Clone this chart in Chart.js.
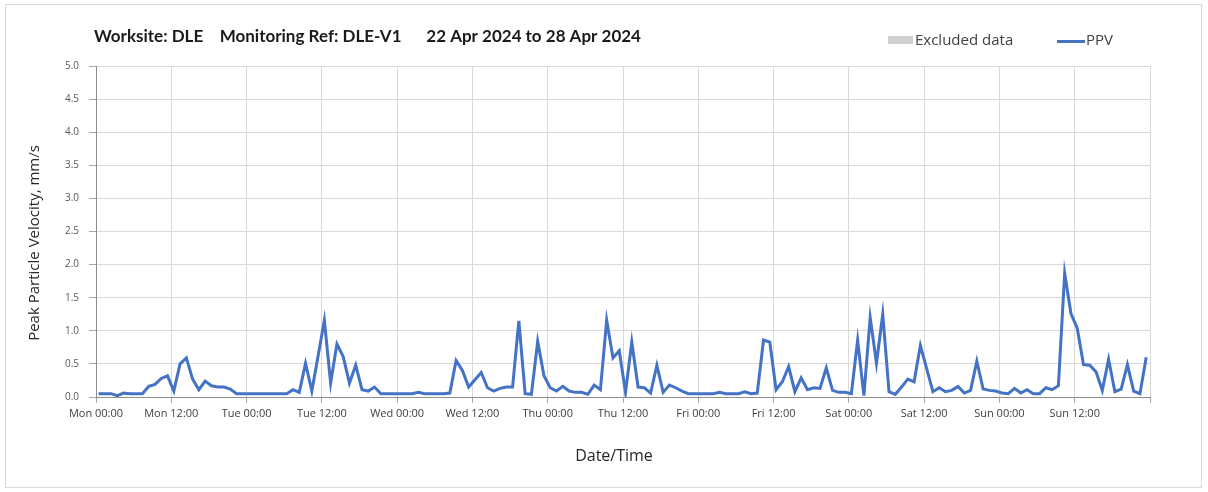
<!DOCTYPE html>
<html>
<head>
<meta charset="utf-8">
<script src="https://cdn.jsdelivr.net/npm/chart.js@4.4.1/dist/chart.umd.min.js"></script>
<style>
  html, body { margin: 0; padding: 0; background: #ffffff; }
  #wrap { position: relative; width: 1208px; height: 492px; }
  #frame { position: absolute; left: 5px; top: 4px; width: 1197px; height: 484px; border: 1px solid #d9d9d9; box-sizing: border-box; pointer-events: none; }
  canvas { position: absolute; left: 0; top: 0; }
</style>
</head>
<body>
<div id="wrap">
  <canvas id="c" width="1208" height="492"></canvas>
  <div id="frame"></div>
</div>
<script>
// ---- Data ----
const chartTitle = 'Worksite: DLE    Monitoring Ref: DLE-V1      22 Apr 2024 to 28 Apr 2024';
const seriesName = 'PPV';
const excludedName = 'Excluded data';
const xTitle = 'Date/Time';
const yTitle = 'Peak Particle Velocity, mm/s';

// tick labels every 12 hours from Mon 00:00
const xTickLabels = ['Mon 00:00','Mon 12:00','Tue 00:00','Tue 12:00','Wed 00:00','Wed 12:00',
  'Thu 00:00','Thu 12:00','Fri 00:00','Fri 12:00','Sat 00:00','Sat 12:00','Sun 00:00','Sun 12:00'];

// hourly PPV readings (mm/s), Mon 00:xx .. Sun 23:xx
const ppvMon = [0.05,0.05,0.05,0.02,0.06,0.05,0.05,0.05,0.16,0.19,0.28,0.32,
                0.09,0.50,0.59,0.27,0.11,0.24,0.17,0.15,0.15,0.12,0.05,0.05];
const ppvTue = [0.05,0.05,0.05,0.05,0.05,0.05,0.05,0.11,0.07,0.51,0.09,0.62,
                1.16,0.21,0.80,0.61,0.21,0.48,0.11,0.09,0.15,0.05,0.05,0.05];
const ppvWed = [0.05,0.05,0.05,0.07,0.05,0.05,0.05,0.05,0.06,0.55,0.40,0.15,
                0.26,0.37,0.14,0.09,0.13,0.15,0.15,1.15,0.05,0.04,0.84,0.32];
const ppvThu = [0.14,0.09,0.16,0.09,0.07,0.07,0.04,0.18,0.11,1.16,0.59,0.70,
                0.07,0.83,0.15,0.14,0.06,0.48,0.07,0.18,0.14,0.09,0.05,0.05];
const ppvFri = [0.05,0.05,0.05,0.07,0.05,0.05,0.05,0.08,0.05,0.06,0.86,0.83,
                0.11,0.23,0.46,0.08,0.29,0.11,0.14,0.13,0.44,0.10,0.07,0.07];
const ppvSat = [0.05,0.86,0.02,1.20,0.51,1.25,0.08,0.04,0.15,0.27,0.23,0.78,
                0.43,0.08,0.14,0.08,0.10,0.16,0.06,0.10,0.54,0.12,0.10,0.09];
const ppvSun = [0.06,0.05,0.13,0.06,0.11,0.05,0.05,0.14,0.11,0.17,1.87,1.26,
                1.04,0.49,0.48,0.38,0.10,0.57,0.08,0.12,0.49,0.09,0.05,0.60];

const readingOffsetHours = 0.4; // readings logged a little after each hour

const ppvAll = [].concat(ppvMon, ppvTue, ppvWed, ppvThu, ppvFri, ppvSat, ppvSun);
const ppvPoints = ppvAll.map((v, i) => ({ x: i + readingOffsetHours, y: v }));

const FONT = '"Open Sans", Lato, sans-serif';
const TITLE_FONT = 'Lato, "Open Sans", sans-serif';

const headerPlugin = {
  id: 'header',
  afterDraw(chart) {
    const ctx = chart.ctx;
    ctx.save();
    ctx.textBaseline = 'middle';
    ctx.textAlign = 'left';
    ctx.fillStyle = '#1a1a1a';
    ctx.font = 'bold 17px ' + TITLE_FONT;
    ctx.fillText(chartTitle, 94, 37);
    // legend
    ctx.fillStyle = '#d0d0d0';
    ctx.fillRect(888, 36, 25, 8);
    ctx.fillStyle = '#404040';
    ctx.font = '15px ' + FONT;
    ctx.fillText(excludedName, 915, 41);
    ctx.strokeStyle = '#4472C4';
    ctx.lineWidth = 3;
    ctx.beginPath();
    ctx.moveTo(1057, 41.5);
    ctx.lineTo(1085, 41.5);
    ctx.stroke();
    ctx.fillText(seriesName, 1086, 41);
    // axis titles
    ctx.fillStyle = '#262626';
    ctx.textAlign = 'center';
    ctx.font = '16px ' + FONT;
    ctx.fillText(xTitle, 614, 456);
    ctx.translate(35, 243);
    ctx.rotate(-Math.PI / 2);
    ctx.font = '15px ' + FONT;
    ctx.fillText(yTitle, 0, 0);
    ctx.restore();
  }
};

new Chart(document.getElementById('c'), {
  type: 'line',
  data: {
    datasets: [{
      label: seriesName,
      data: ppvPoints,
      borderColor: '#4472C4',
      backgroundColor: '#4472C4',
      borderWidth: 3,
      pointRadius: 0,
      tension: 0,
      fill: false
    }]
  },
  options: {
    responsive: false,
    animation: false,
    devicePixelRatio: 1,
    layout: { padding: { left: 0, right: 58, top: 66, bottom: 0 } },
    plugins: { legend: { display: false }, title: { display: false }, tooltip: { enabled: false } },
    scales: {
      x: {
        type: 'linear',
        min: 0,
        max: 168,
        afterFit(s) { s.height = 95; },
        ticks: {
          stepSize: 12,
          autoSkip: false,
          maxRotation: 0,
          padding: 4,
          color: '#404040',
          font: { family: FONT, size: 11 },
          callback(v) { const k = v / 12; return (Number.isInteger(k) && k < xTickLabels.length) ? xTickLabels[k] : ''; }
        },
        grid: { color: '#d9d9d9', lineWidth: 1, tickLength: 6, tickColor: '#a6a6a6' },
        border: { color: '#8c8c8c', width: 1 },
        title: { display: false }
      },
      y: {
        min: 0,
        max: 5,
        afterFit(s) { s.width = 96; },
        ticks: {
          stepSize: 0.5,
          padding: 10,
          color: '#595959',
          font: { family: FONT, size: 10 },
          callback(v) { return v.toFixed(1); }
        },
        grid: { color: '#d9d9d9', lineWidth: 1, tickLength: 7, tickColor: '#a6a6a6' },
        border: { color: '#8c8c8c', width: 1 },
        title: { display: false }
      }
    }
  },
  plugins: [headerPlugin]
});
</script>
</body>
</html>
